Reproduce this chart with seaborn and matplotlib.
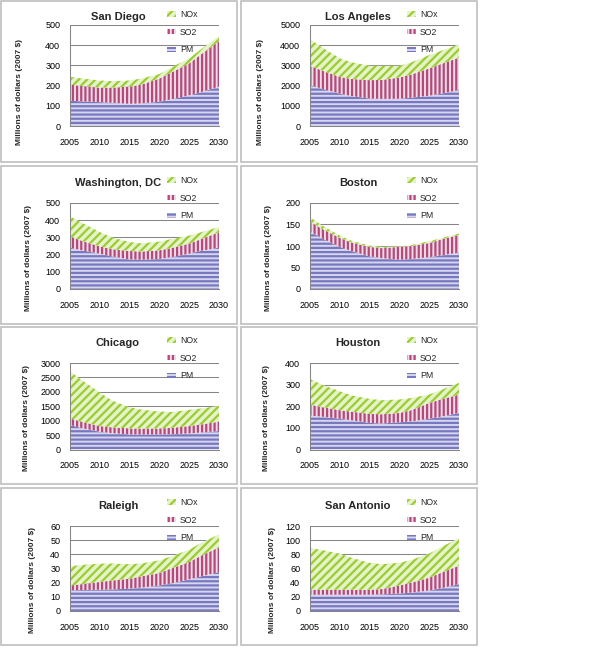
import numpy as np
import pandas as pd
import matplotlib
matplotlib.use('Agg')
import matplotlib.pyplot as plt
from matplotlib.patches import Patch, Rectangle
from matplotlib import font_manager
import seaborn as sns

# values (millions of 2007 $), per pollutant, stacked PM -> SO2 -> NOx
YEARS = [2005, 2007, 2010, 2012, 2015, 2017, 2020, 2022, 2025, 2027, 2030]

SD_PM = [125, 122, 118, 115, 110, 112, 120, 132, 152, 168, 195]
SD_SO2 = [80, 76, 72, 75, 85, 93, 115, 133, 158, 187, 225]
SD_NOX = [38, 37, 35, 32, 30, 30, 22, 25, 25, 25, 25]

LA_PM = [2020, 1850, 1600, 1480, 1360, 1340, 1350, 1400, 1500, 1600, 1780]
LA_SO2 = [960, 900, 830, 850, 910, 940, 1050, 1150, 1350, 1470, 1610]
LA_NOX = [1310, 1150, 915, 820, 710, 700, 580, 600, 660, 650, 650]

DC_PM = [240, 225, 205, 190, 172, 170, 175, 185, 205, 222, 240]
DC_SO2 = [66, 55, 43, 42, 49, 48, 50, 53, 59, 68, 90]
DC_NOX = [116, 105, 83, 68, 52, 47, 50, 52, 46, 40, 30]

BOS_PM = [134, 118, 98, 88, 76, 72, 68, 70, 74, 78, 85]
BOS_SO2 = [23, 22, 21, 20, 22, 23, 30, 30, 33, 37, 41]
BOS_NOX = [10, 8, 5, 4, 3, 3, 1, 2, 4, 3, 3]

CHI_PM = [850, 740, 616, 570, 523, 520, 523, 530, 558, 590, 640]
CHI_SO2 = [230, 220, 198, 200, 210, 205, 210, 220, 256, 280, 325]
CHI_NOX = [1630, 1440, 1163, 930, 732, 655, 581, 550, 558, 550, 547]

HOU_PM = [157, 152, 142, 135, 123, 120, 126, 130, 142, 152, 169]
HOU_SO2 = [51, 44, 40, 40, 42, 43, 43, 52, 73, 80, 85]
HOU_NOX = [118, 104, 87, 75, 69, 65, 62, 56, 39, 43, 54]

RAL_PM = [14.6, 14.8, 15, 15.2, 15.8, 16.5, 18, 19.5, 22.4, 24.5, 27.5]
RAL_SO2 = [3.4, 4.2, 5.5, 6.3, 7.0, 8.0, 8.8, 10.5, 12.2, 14.5, 17.5]
RAL_NOX = [13.5, 13.5, 12.9, 12.0, 10.2, 9.0, 9.0, 8.5, 8.7, 9.0, 9.1]

SA_PM = [23, 23, 23, 23, 23, 23.5, 24.6, 26, 29, 32, 38]
SA_SO2 = [7, 7, 7, 7, 7, 7.5, 11.4, 14, 18, 22, 26]
SA_NOX = [59, 56, 51, 45, 38, 35, 32, 32, 34, 36, 39]

CITIES = ['San Diego', 'Los Angeles', 'Washington, DC', 'Boston',
          'Chicago', 'Houston', 'Raleigh', 'San Antonio']
Y_MAX = [500, 5000, 500, 200, 3000, 400, 60, 120]
Y_STEP = [100, 1000, 100, 50, 500, 100, 10, 20]

series = {
    'San Diego': (SD_PM, SD_SO2, SD_NOX),
    'Los Angeles': (LA_PM, LA_SO2, LA_NOX),
    'Washington, DC': (DC_PM, DC_SO2, DC_NOX),
    'Boston': (BOS_PM, BOS_SO2, BOS_NOX),
    'Chicago': (CHI_PM, CHI_SO2, CHI_NOX),
    'Houston': (HOU_PM, HOU_SO2, HOU_NOX),
    'Raleigh': (RAL_PM, RAL_SO2, RAL_NOX),
    'San Antonio': (SA_PM, SA_SO2, SA_NOX),
}

sns.set_theme(style='white')
names = {f.name for f in font_manager.fontManager.ttflist}
BASE_FONT = 'Liberation Sans' if 'Liberation Sans' in names else 'DejaVu Sans'
NARROW_FONT = 'Liberation Sans Narrow' if 'Liberation Sans Narrow' in names else BASE_FONT
plt.rcParams['font.family'] = [BASE_FONT, 'DejaVu Sans']
plt.rcParams['hatch.linewidth'] = 1.6

GRID = '#868686'
STYLE = {
    'PM': dict(facecolor='#d6d6ef', edgecolor='#7878c0', hatch='----'),
    'SO2': dict(facecolor='#f1dbe6', edgecolor='#b24a7c', hatch='||||'),
    'NOx': dict(facecolor='#e6f3c8', edgecolor='#9acd32', hatch='////'),
}

# layout in pixels of the 600x648 picture
W, H = 600, 648
COL_X = [0, 240]
PLOT_X = (70, 219)
PLOT_Y = [(25, 126), (203, 289), (363, 449.5), (526, 611)]
BOX_Y = [(1, 162), (166, 324), (327, 484), (488, 645)]
TITLE_Y = [17, 183, 343, 506]
YLAB_X = [20, 29, 27, 32]
YLAB_Y = [92, 258, 418, 580]
LEG_Y = [15, 181, 341, 503]


def fx(x):
    return x / W


def fy(y):
    return 1 - y / H


fig = plt.figure(figsize=(6, 6.48), dpi=100)

for i, city in enumerate(CITIES):
    row, col = divmod(i, 2)
    x0 = COL_X[col]
    top, bot = PLOT_Y[row]
    ax = fig.add_axes([fx(x0 + PLOT_X[0]), fy(bot),
                       (PLOT_X[1] - PLOT_X[0]) / W, (bot - top) / H])

    pm, so2, nox = (np.array(v, dtype=float) for v in series[city])
    df = pd.DataFrame({'year': YEARS, 'PM': pm, 'SO2': so2, 'NOx': nox})
    lvl1 = df['PM']
    lvl2 = lvl1 + df['SO2']
    lvl3 = lvl2 + df['NOx']
    ax.fill_between(df['year'], 0, lvl1, linewidth=0, **STYLE['PM'])
    ax.fill_between(df['year'], lvl1, lvl2, linewidth=0, **STYLE['SO2'])
    ax.fill_between(df['year'], lvl2, lvl3, linewidth=0, **STYLE['NOx'])

    ax.set_xlim(2005, 2030)
    ax.set_ylim(0, Y_MAX[i])
    ax.set_xticks(range(2005, 2031, 5))
    ax.set_yticks(np.arange(0, Y_MAX[i] + Y_STEP[i] / 2, Y_STEP[i]))
    ax.set_axisbelow(True)
    ax.yaxis.grid(True, color=GRID, linewidth=0.75)
    ax.xaxis.grid(False)
    sns.despine(ax=ax)
    for s in ('left', 'bottom'):
        ax.spines[s].set_color(GRID)
        ax.spines[s].set_linewidth(0.75)
    ax.tick_params(axis='both', length=2.5, width=0.6, color=GRID,
                   labelsize=6.5, labelcolor='black')
    ax.tick_params(axis='x', pad=6)
    ax.tick_params(axis='y', pad=4.5)
    ax.set_xlabel('')
    ax.set_ylabel('')

    fig.text(fx(x0 + 118), fy(TITLE_Y[row]), city, ha='center', va='center',
             fontsize=8, fontweight='bold')
    fig.text(fx(x0 + YLAB_X[row]), fy(YLAB_Y[row]), 'Millions of dollars (2007 $)',
             rotation=90, ha='center', va='center', fontsize=6,
             fontweight='bold', family=[NARROW_FONT, 'DejaVu Sans'])

    handles = [Patch(linewidth=0, label=k, **STYLE[k]) for k in ('NOx', 'SO2', 'PM')]
    ax.legend(handles=handles, loc='upper left',
              bbox_to_anchor=(fx(x0 + 167), fy(LEG_Y[row] - 5)),
              bbox_transform=fig.transFigure, frameon=False, fontsize=6.3,
              borderpad=0, borderaxespad=0, handlelength=1.0, handleheight=0.6,
              handletextpad=0.5, labelspacing=1.0)

    b0, b1 = BOX_Y[row]
    fig.add_artist(Rectangle((fx(x0 + 1), fy(b1)), 236 / W, (b1 - b0) / H,
                             transform=fig.transFigure, fill=False,
                             edgecolor='#bfbfbf', linewidth=1.2))

fig.savefig('out.png', dpi=100)
